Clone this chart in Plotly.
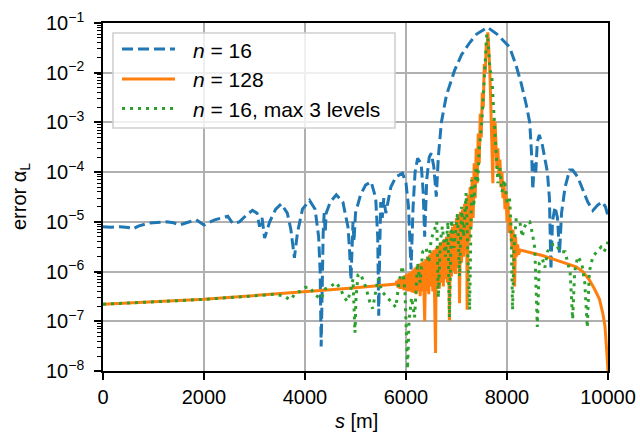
import plotly.graph_objects as go

# ---------------- data ----------------
s_n16 = [0, 150, 330, 500, 590, 700, 920, 1100, 1250, 1400, 1515, 1650, 1845, 2000, 2100,
         2210, 2350, 2470, 2570, 2700, 2850, 2960, 3050, 3100, 3150, 3200, 3300, 3420, 3530,
         3650, 3720, 3790, 3850, 3950, 4090, 4200, 4270, 4300, 4320, 4340, 4360, 4380, 4400,
         4420, 4500, 4620, 4750, 4850, 4880, 4910, 4930, 4950, 4970, 5000, 5100, 5200, 5310,
         5400, 5440, 5460, 5480, 5500, 5530, 5560, 5600, 5700, 5800, 5930, 6000, 6050, 6100,
         6140, 6180, 6230, 6300, 6340, 6370, 6410, 6460, 6500, 6550, 6600, 6640, 6700, 6800,
         6960, 7100, 7260, 7400, 7613, 7800, 8050, 8180, 8280, 8380, 8450, 8490, 8510, 8540,
         8570, 8600, 8640, 8700, 8800, 8840, 8870, 8900, 8950, 9000, 9040, 9080, 9150, 9240,
         9300, 9400, 9500, 9600, 9700, 9800, 9890, 9950, 10000]
err_n16 = [8.0e-6, 7.8e-6, 8.0e-6, 7.7e-6, 7.2e-6, 8.2e-6, 9.5e-6, 9.8e-6, 1.0e-5, 9.6e-6,
           8.6e-6, 9.6e-6, 1.1e-5, 8.6e-6, 9.8e-6, 1.1e-5, 1.2e-5, 1.3e-5, 9.3e-6, 1.0e-5,
           1.4e-5, 1.7e-5, 1.5e-5, 8.0e-6, 1.2e-5, 4.7e-6, 1.0e-5, 1.8e-5, 2.3e-5, 1.5e-5,
           7.0e-6, 1.9e-6, 6.0e-6, 1.8e-5, 2.7e-5, 1.8e-5, 5.0e-6, 1.0e-6, 3.1e-8, 1.0e-6,
           6.0e-6, 1.5e-5, 6.0e-6, 1.5e-5, 2.5e-5, 3.5e-5, 2.5e-5, 8.0e-6, 3.0e-6, 6.8e-7,
           3.0e-6, 1.0e-5, 4.0e-6, 1.5e-5, 3.5e-5, 5.5e-5, 6.4e-5, 3.0e-5, 5.0e-6, 1.3e-7,
           3.0e-6, 2.5e-5, 1.2e-5, 3.0e-5, 1.5e-5, 5.0e-5, 8.0e-5, 9.5e-5, 6.0e-5, 2.0e-5,
           1.1e-6, 2.0e-5, 1.0e-4, 1.9e-4, 1.5e-4, 4.0e-5, 5.0e-6, 7.0e-5, 2.0e-4, 2.4e-4,
           1.3e-4, 3.2e-5, 2.0e-4, 1.0e-3, 3.5e-3, 1.1e-2, 2.3e-2, 4.0e-2, 6.0e-2, 8.2e-2,
           6.0e-2, 3.3e-2, 1.4e-2, 6.2e-3, 2.3e-3, 1.0e-3, 2.0e-4, 4.4e-5, 1.5e-4, 1.0e-4,
           4.0e-4, 5.6e-4, 3.5e-4, 1.0e-4, 3.0e-5, 1.1e-6, 1.0e-5, 2.0e-5, 1.2e-5, 2.3e-6,
           1.5e-5, 5.0e-5, 1.1e-4, 1.1e-4, 8.0e-5, 4.5e-5, 2.5e-5, 1.7e-5, 2.2e-5, 2.5e-5,
           2.0e-5, 1.3e-5]

s_n128 = [0, 500, 1000, 1500, 2000, 2500, 3000, 3500, 4000, 4500, 5000, 5500, 5800,
          5820, 5840, 5860, 5880, 5900, 5920, 5940, 5960, 5980, 6000, 6020, 6040, 6060, 6080,
          6100, 6120, 6140, 6160, 6180, 6200, 6220, 6240, 6260, 6280, 6300, 6320, 6340, 6370,
          6390, 6410, 6430, 6450, 6470, 6490, 6510, 6530, 6550, 6585, 6600, 6620, 6640, 6660,
          6680, 6700, 6720, 6740, 6760, 6780, 6800, 6820, 6840, 6860, 6880, 6900, 6920, 6940,
          6960, 6980, 7000, 7020, 7040, 7060, 7080, 7100, 7120, 7140, 7160, 7180, 7200, 7210,
          7230, 7250, 7270, 7290, 7310, 7330, 7350, 7370, 7390, 7410, 7430, 7450, 7470, 7490,
          7510, 7530, 7550, 7570, 7590, 7605, 7620, 7640, 7655, 7670, 7690, 7710, 7720, 7735,
          7750, 7765, 7780, 7800, 7820, 7840, 7860, 7880, 7900, 7920, 7940, 7960, 7980, 8000,
          8020, 8040, 8060, 8080, 8100, 8120, 8150, 8170, 8190, 8210, 8230, 8260, 8450, 8700,
          8975, 9200, 9370, 9500, 9630, 9730, 9830, 9900, 9940, 9975, 10000]
err_n128 = [2.2e-7, 2.35e-7, 2.5e-7, 2.62e-7, 2.76e-7, 3.0e-7, 3.25e-7, 3.55e-7, 3.9e-7,
            4.3e-7, 4.7e-7, 5.2e-7, 5.6e-7,
            6.5e-7, 4.8e-7, 7.0e-7, 4.5e-7, 7.5e-7, 4.5e-7, 8.0e-7, 4.2e-7, 8.5e-7, 4.3e-7,
            9.0e-7, 4.0e-7, 9.5e-7, 4.0e-7, 1.0e-6, 3.8e-7, 1.1e-6, 3.7e-7, 1.2e-6, 3.5e-7,
            1.3e-6, 4.0e-7, 1.4e-6, 3.2e-7, 1.5e-6, 4.0e-7, 1.6e-6, 1.0e-7, 1.8e-6, 4.0e-7,
            2.0e-6, 3.5e-7, 2.2e-6, 5.0e-7, 2.5e-6, 4.0e-7, 2.7e-6, 2.3e-8, 3.0e-6, 5.0e-7,
            3.2e-6, 4.5e-7, 3.8e-6, 6.0e-7, 4.0e-6, 5.0e-7, 4.5e-6, 7.0e-7, 5.0e-6, 6.0e-7,
            5.5e-6, 1.05e-7, 6.5e-6, 8.0e-7, 8.0e-6, 1.0e-6, 9.0e-6, 9.0e-7, 1.2e-5, 1.2e-6,
            1.4e-5, 2.3e-7, 1.6e-5, 1.5e-6, 1.8e-5, 2.0e-6, 2.3e-5, 2.5e-6, 2.8e-5, 1.7e-7,
            3.5e-5, 4.0e-6, 5.0e-5, 8.0e-6, 8.0e-5, 1.2e-5, 1.5e-4, 3.0e-5, 3.0e-4, 6.0e-5,
            6.0e-4, 1.5e-4, 1.5e-3, 5.0e-4, 4.0e-3, 2.0e-3, 1.5e-2, 1.0e-2, 4.0e-2, 3.0e-2,
            6.5e-2, 3.0e-2, 1.5e-2, 5.0e-3, 1.0e-3, 3.0e-4, 6.0e-5, 1.1e-3, 5.0e-4, 1.0e-3,
            3.5e-4, 1.2e-4, 3.0e-4, 8.0e-5, 1.8e-4, 5.0e-5, 1.0e-4, 3.0e-5, 6.0e-5, 1.8e-5,
            4.0e-5, 1.0e-5, 2.5e-5, 6.0e-6, 1.2e-5, 5.0e-6, 3.0e-6, 7.0e-6, 5.0e-7, 5.0e-6,
            2.0e-6, 3.5e-6, 2.2e-6, 2.7e-6, 2.4e-6, 2.1e-6, 1.7e-6, 1.45e-6, 1.25e-6, 1.0e-6,
            6.8e-7, 4.5e-7, 2.8e-7, 1.4e-7, 8.0e-8, 2.5e-8, 1.0e-8]

s_n16_3lev = [0, 1000, 2000, 3000, 3400, 3600, 3700, 3750, 3800, 3900, 4000, 4090, 4150,
              4200, 4320, 4400, 4500, 4620, 4700, 4780, 4840, 4900, 4950, 4990, 5010, 5050,
              5100, 5200, 5280, 5340, 5400, 5450, 5520, 5600, 5700, 5800, 5860, 5930, 5980,
              6030, 6060, 6110, 6170, 6230, 6280, 6330, 6400, 6450, 6500, 6560, 6610, 6640,
              6680, 6720, 6780, 6830, 6860, 6900, 6950, 7020, 7060, 7100, 7140, 7190, 7260,
              7300, 7340, 7390, 7420, 7450, 7500, 7540, 7570, 7600, 7620, 7640, 7660, 7700,
              7730, 7760, 7790, 7820, 7860, 7900, 7950, 8000, 8050, 8080, 8110, 8140, 8180,
              8250, 8300, 8350, 8400, 8450, 8500, 8550, 8600, 8640, 8700, 8750, 8800, 8900,
              8970, 9050, 9150, 9250, 9300, 9340, 9400, 9480, 9540, 9590, 9630, 9700, 9780,
              9860, 9920, 9960, 10000]
err_n16_3lev = [2.2e-7, 2.5e-7, 2.76e-7, 3.25e-7, 3.5e-7, 3.2e-7, 2.7e-7, 3.0e-7, 3.6e-7,
                4.0e-7, 4.8e-7, 4.9e-7, 4.0e-7, 3.4e-7, 2.8e-7, 4.5e-7, 5.0e-7, 6.0e-7,
                4.5e-7, 3.0e-7, 2.5e-7, 4.0e-7, 7.0e-7, 5.9e-8, 3.0e-7, 8.6e-7, 9.0e-7,
                5.0e-7, 2.5e-7, 1.8e-7, 4.0e-7, 7.3e-7, 4.0e-7, 3.3e-7, 2.5e-7, 1.9e-7,
                6.0e-7, 1.3e-6, 4.0e-7, 1.1e-8, 1.0e-7, 3.0e-7, 1.2e-7, 1.5e-6, 6.0e-7,
                2.5e-6, 3.0e-6, 1.5e-6, 4.5e-6, 6.7e-6, 1.0e-5, 3.0e-7, 4.0e-6, 8.0e-6,
                2.0e-6, 1.0e-5, 1.2e-7, 1.1e-5, 3.0e-6, 1.5e-5, 8.0e-7, 2.0e-5, 5.0e-6,
                3.8e-5, 1.7e-7, 7.0e-5, 2.0e-5, 1.3e-4, 6.0e-5, 3.0e-4, 1.0e-3, 5.0e-3,
                2.0e-2, 6.0e-2, 5.5e-2, 2.0e-2, 1.2e-2, 8.0e-3, 2.0e-3, 6.0e-4, 2.0e-4,
                6.0e-5, 1.2e-4, 4.0e-5, 7.0e-5, 2.5e-5, 3.0e-5, 8.0e-6, 1.7e-7, 3.0e-6,
                1.1e-5, 1.1e-5, 5.0e-6, 8.0e-6, 1.0e-5, 1.0e-5, 6.0e-6, 3.0e-6, 7.7e-8,
                1.5e-6, 1.8e-6, 1.2e-6, 2.5e-6, 3.5e-6, 3.6e-6, 2.5e-6, 2.5e-6, 9.6e-7,
                1.1e-7, 1.0e-6, 2.0e-6, 1.5e-6, 6.0e-7, 7.5e-8, 1.0e-6, 2.0e-6, 2.5e-6,
                3.1e-6, 2.5e-6, 3.0e-6, 4.0e-6]

legend_labels = ["<i>n</i> = 16", "<i>n</i> = 128", "<i>n</i> = 16, max 3 levels"]
x_ticks = [0, 2000, 4000, 6000, 8000, 10000]
x_ticktext = ["0", "2000", "4000", "6000", "8000", "10000"]
y_ticks = [1e-8, 1e-7, 1e-6, 1e-5, 1e-4, 1e-3, 1e-2, 1e-1]
y_ticktext = ["10<sup>−8</sup>", "10<sup>−7</sup>", "10<sup>−6</sup>", "10<sup>−5</sup>",
              "10<sup>−4</sup>", "10<sup>−3</sup>", "10<sup>−2</sup>", "10<sup>−1</sup>"]
y_minor = [m * 10.0 ** e for e in range(-8, -1) for m in range(2, 10)]

# ---------------- styling ----------------
BLUE, ORANGE, GREEN = "#1f77b4", "#ff7f0e", "#2ca02c"
DASHES = ["11px,5px", "solid", "3px,5px"]
COLORS = [BLUE, ORANGE, GREEN]
FONT = "Liberation Sans"
FS = 20
W, H = 640, 440
L, R, T, B = 103, 32, 23, 69
PW, PH = W - L - R, H - T - B


def px_x(p):
    return (p - L) / PW


def px_y(p):
    return 1 - (p - T) / PH


fig = go.Figure()
series = [(s_n16, err_n16), (s_n128, err_n128), (s_n16_3lev, err_n16_3lev)]
for (xs, ys), name, col, dash in zip(series, legend_labels, COLORS, DASHES):
    fig.add_trace(go.Scatter(x=xs, y=ys, mode="lines", name=name, showlegend=False,
                             line=dict(color=col, width=3, dash=dash)))

axis_common = dict(showline=True, linecolor="black", linewidth=1.6, mirror=True,
                   ticks="outside", ticklen=7, tickwidth=1.6, tickcolor="black",
                   showgrid=True, gridcolor="#b0b0b0", gridwidth=1.6, zeroline=False,
                   automargin=False,
                   tickfont=dict(family=FONT, size=FS, color="black"))

fig.update_xaxes(range=[0, 10000], tickvals=x_ticks, ticktext=x_ticktext, **axis_common)
fig.update_yaxes(type="log", range=[-8, -1], tickvals=y_ticks, ticktext=y_ticktext,
                 ticklabelstandoff=6,
                 minor=dict(tickvals=y_minor, ticks="outside", ticklen=4, tickwidth=1.2,
                            tickcolor="black", showgrid=False),
                 **axis_common)

# ---------------- legend (drawn by hand to match proportions) ----------------
lx0, ly0, lx1, ly1 = 113, 33, 395, 128
xa, xb = px_x(lx0), px_x(lx1)
ya, yb = px_y(ly0), px_y(ly1)
fig.add_shape(type="rect", xref="paper", yref="paper", x0=xa, x1=xb, y0=yb, y1=ya,
              line=dict(color="#d0d0d0", width=1.6), fillcolor="rgba(255,255,255,0.8)",
              layer="above")
rows_y = [49, 79, 108.5]
for ry, col, dash, lab in zip(rows_y, COLORS, DASHES, legend_labels):
    fig.add_shape(type="line", xref="paper", yref="paper", x0=px_x(122), x1=px_x(175),
                  y0=px_y(ry), y1=px_y(ry), line=dict(color=col, width=3, dash=dash),
                  layer="above")
    fig.add_annotation(xref="paper", yref="paper", x=px_x(191), y=px_y(ry + 1), text=lab,
                       showarrow=False, xanchor="left", yanchor="middle",
                       font=dict(family=FONT, size=FS + 1, color="black"))

# axis titles
fig.add_annotation(xref="paper", yref="paper", x=px_x(356), y=px_y(421), text="<i>s</i> [m]",
                   showarrow=False, xanchor="center", yanchor="middle",
                   font=dict(family=FONT, size=FS, color="black"))
fig.add_annotation(xref="paper", yref="paper", x=px_x(20), y=px_y(197),
                   text="error α<sub>L</sub>", textangle=-90,
                   showarrow=False, xanchor="center", yanchor="middle",
                   font=dict(family=FONT, size=FS, color="black"))

fig.update_layout(width=W, height=H, margin=dict(l=L, r=R, t=T, b=B, autoexpand=False),
                  paper_bgcolor="white", plot_bgcolor="white", showlegend=False,
                  font=dict(family=FONT, size=FS, color="black"))

fig.write_html("out.html")
